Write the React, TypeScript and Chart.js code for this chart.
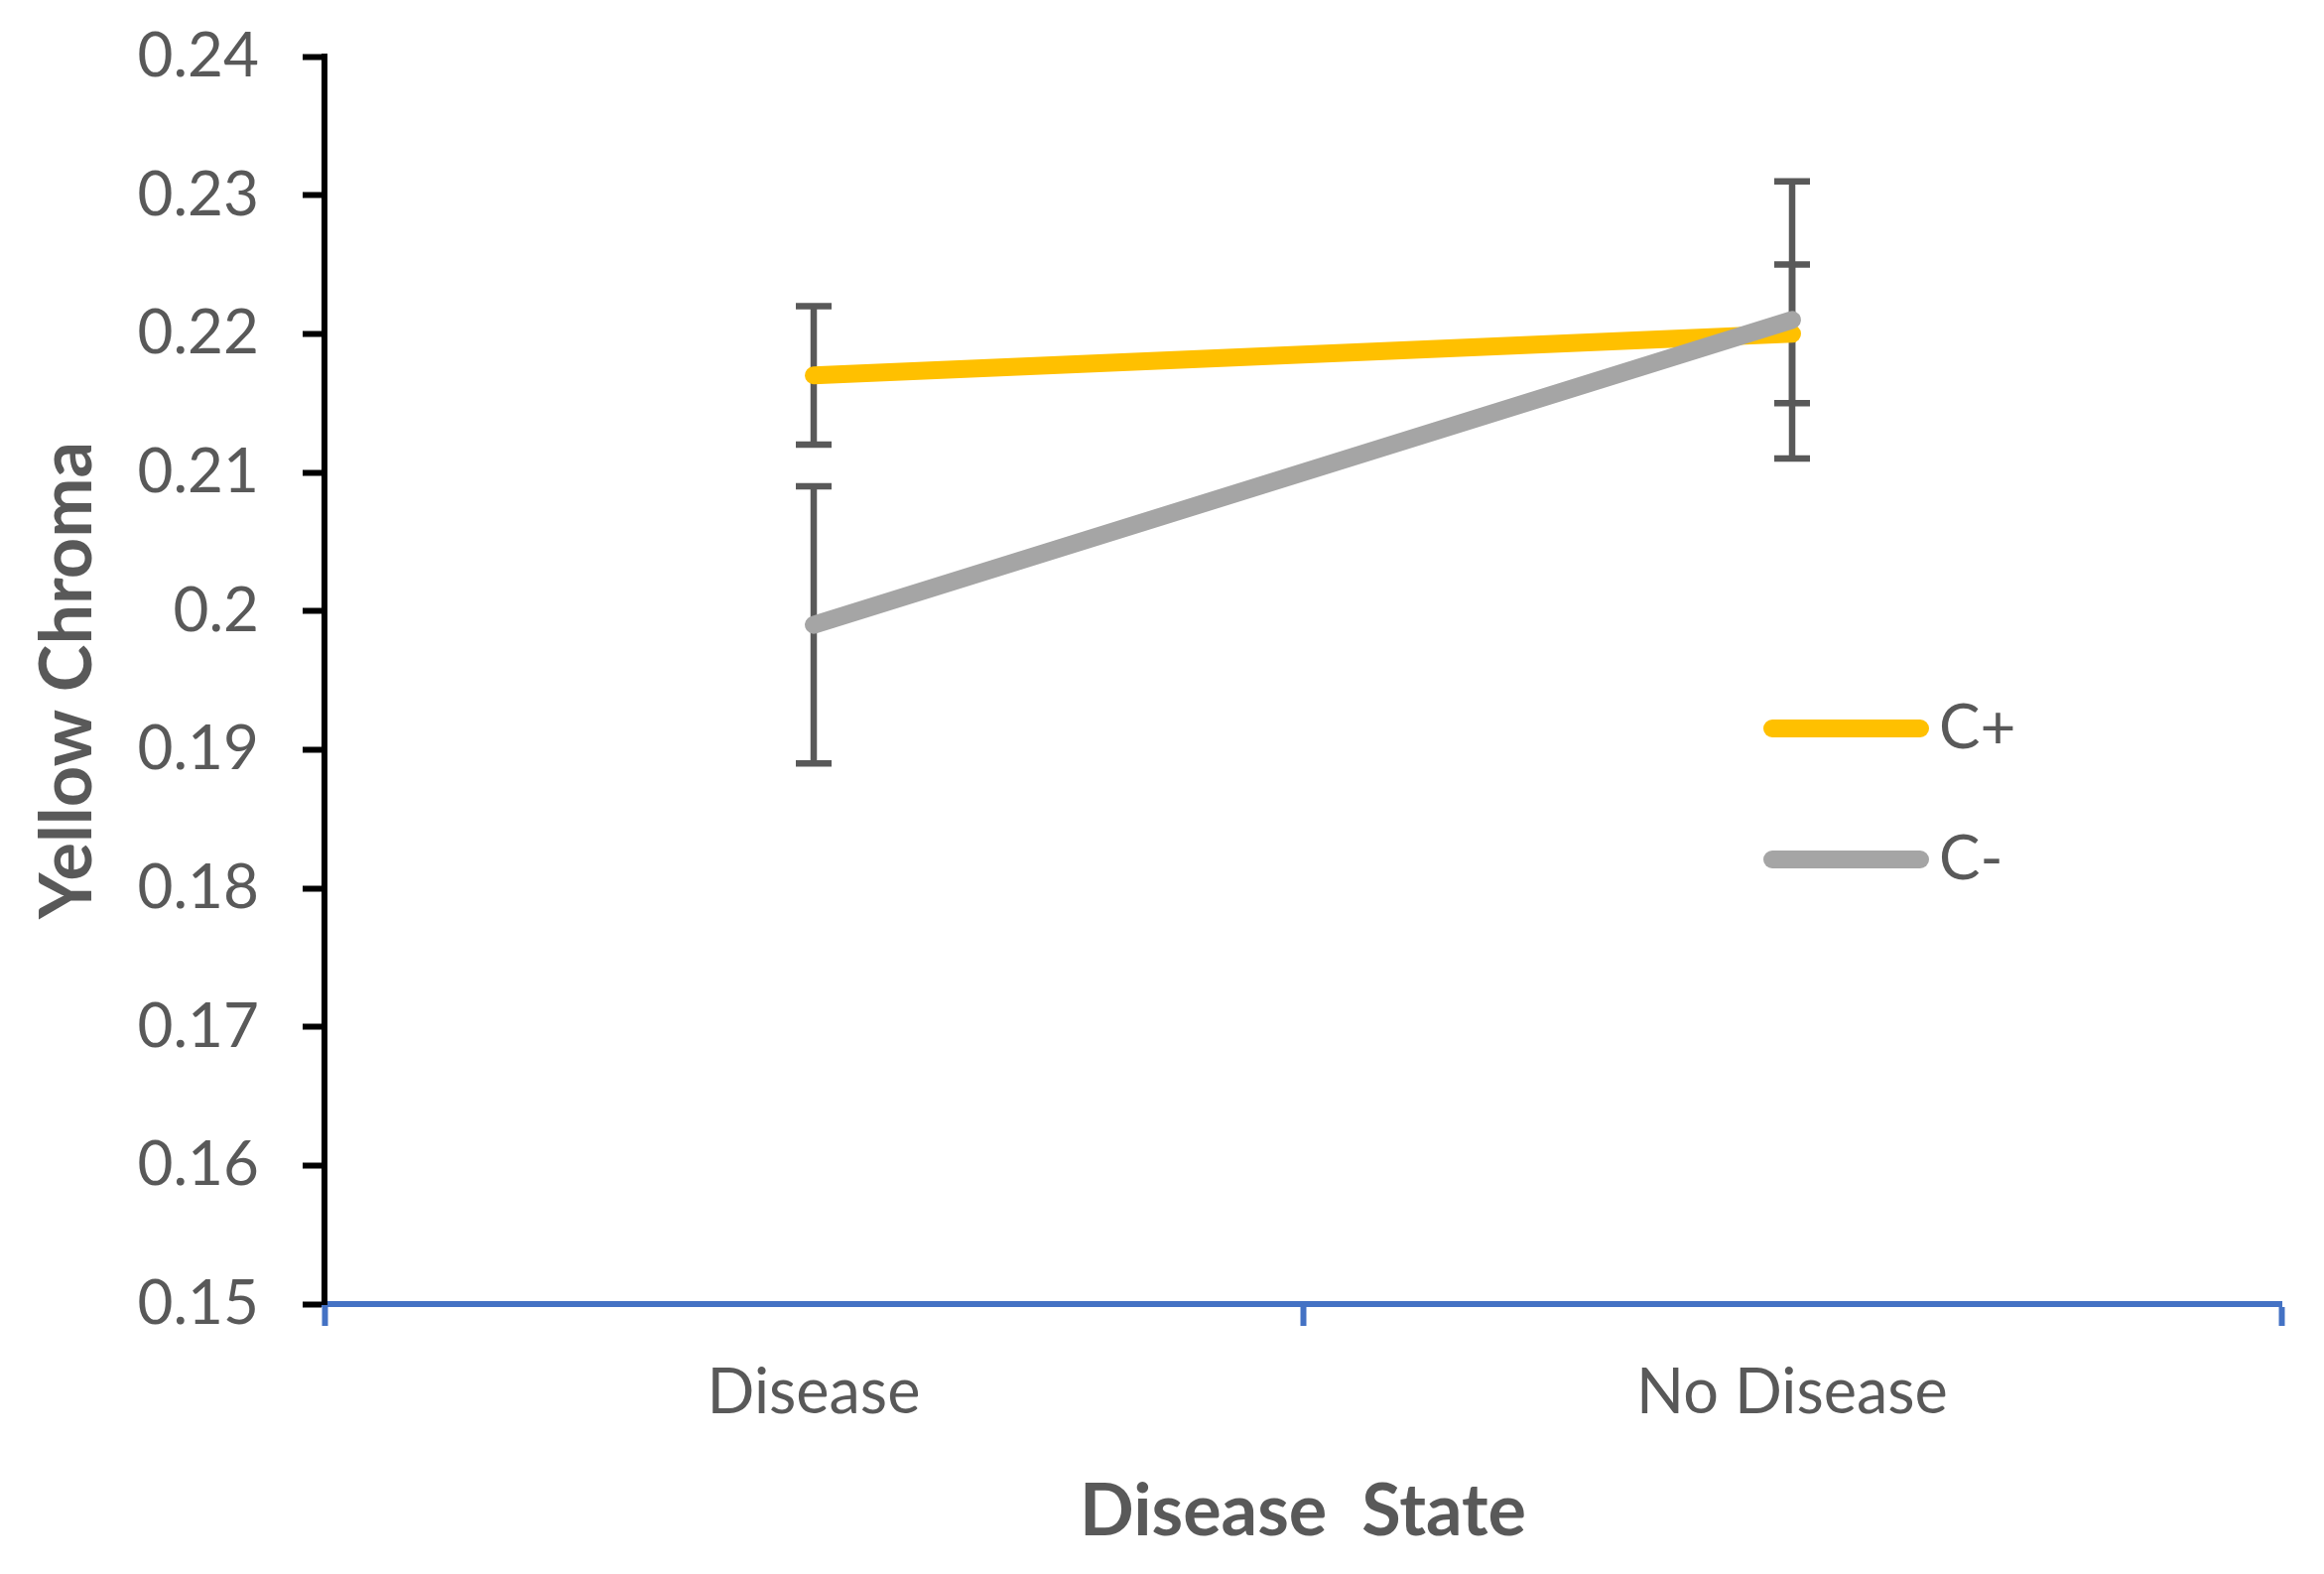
import React, { useEffect, useRef } from "react";
import { Chart, registerables } from "chart.js";

Chart.register(...registerables);

const categories = ["Disease", "No Disease"];
const seriesLabels = ["C+", "C-"];
const cPlusValues = [0.217, 0.22];
const cPlusErrors = [0.005, 0.005];
const cMinusValues = [0.199, 0.221];
const cMinusErrors = [0.01, 0.01];
const yTickValues = [0.15, 0.16, 0.17, 0.18, 0.19, 0.2, 0.21, 0.22, 0.23, 0.24];
const xTitle = "Disease  State";
const yTitle = "Yellow Chroma";

const YELLOW = "#FFC000";
const GREY = "#A5A5A5";
const TEXT = "#595959";
const BLUE = "#4472C4";

const errorBarPlugin = {
  id: "errorBars",
  beforeDatasetsDraw(chart: any) {
    const { ctx } = chart;
    const x = chart.scales.x;
    const y = chart.scales.y;
    ctx.save();
    ctx.strokeStyle = "#595959";
    ctx.lineWidth = 6.5;
    ctx.lineCap = "butt";
    chart.data.datasets.forEach((ds: any) => {
      const errs: number[] = ds.errors || [];
      ds.data.forEach((v: number, i: number) => {
        const e = errs[i];
        if (e == null) return;
        const px = x.getPixelForValue(i);
        const top = y.getPixelForValue(v + e);
        const bot = y.getPixelForValue(v - e);
        ctx.beginPath();
        ctx.moveTo(px, top);
        ctx.lineTo(px, bot);
        ctx.moveTo(px - 18, top);
        ctx.lineTo(px + 18, top);
        ctx.moveTo(px - 18, bot);
        ctx.lineTo(px + 18, bot);
        ctx.stroke();
      });
    });
    ctx.restore();
  },
};

const insideLegendPlugin = {
  id: "insideLegend",
  afterDatasetsDraw(chart: any) {
    const { ctx } = chart;
    const lineStart = 1786;
    const lineEnd = 1935;
    const textX = 1954;
    const rowY = [734, 866];
    ctx.save();
    chart.data.datasets.forEach((ds: any, i: number) => {
      const yy = rowY[i];
      ctx.beginPath();
      ctx.strokeStyle = ds.borderColor;
      ctx.lineWidth = 18;
      ctx.lineCap = "round";
      ctx.moveTo(lineStart, yy);
      ctx.lineTo(lineEnd, yy);
      ctx.stroke();
      ctx.fillStyle = TEXT;
      ctx.font = "62px Lato";
      ctx.textAlign = "left";
      ctx.textBaseline = "middle";
      ctx.fillText(ds.label, textX, yy);
    });
    ctx.restore();
  },
};

export default function App() {
  const canvasRef = useRef<HTMLCanvasElement | null>(null);

  useEffect(() => {
    const canvas = canvasRef.current;
    if (!canvas) return;
    Chart.defaults.font.family = "Lato";
    const chart = new Chart(canvas, {
      type: "line",
      data: {
        labels: categories,
        datasets: [
          {
            label: seriesLabels[0],
            data: cPlusValues,
            errors: cPlusErrors,
            borderColor: YELLOW,
            backgroundColor: YELLOW,
            borderWidth: 18,
            borderCapStyle: "round",
            pointRadius: 0,
            pointHoverRadius: 0,
            order: 1,
          } as any,
          {
            label: seriesLabels[1],
            data: cMinusValues,
            errors: cMinusErrors,
            borderColor: GREY,
            backgroundColor: GREY,
            borderWidth: 18,
            borderCapStyle: "round",
            pointRadius: 0,
            pointHoverRadius: 0,
            order: 0,
          } as any,
        ],
      },
      options: {
        responsive: false,
        animation: false,
        devicePixelRatio: 1,
        layout: { padding: { top: 57, right: 43, left: 0, bottom: 0 } },
        plugins: {
          legend: { display: false },
          tooltip: { enabled: false },
        },
        scales: {
          x: {
            type: "category",
            offset: true,
            grid: {
              offset: true,
              drawOnChartArea: false,
              drawTicks: true,
              tickLength: 22,
              tickWidth: 6,
              tickColor: BLUE,
            },
            border: { color: BLUE, width: 6 },
            ticks: {
              color: TEXT,
              font: { family: "Lato", size: 63 },
              padding: 30,
              maxRotation: 0,
            },
            title: {
              display: true,
              text: xTitle,
              color: TEXT,
              font: { family: "Lato", size: 72, weight: "bold" },
              padding: { top: 0, bottom: 19 },
            },
            afterFit(scale: any) {
              scale.height = 272;
              scale.paddingLeft = 0;
              scale.paddingRight = 0;
            },
          },
          y: {
            type: "linear",
            min: 0.15,
            max: 0.24,
            grid: {
              drawOnChartArea: false,
              drawTicks: true,
              tickLength: 22,
              tickWidth: 6,
              tickColor: "#000000",
            },
            border: { color: "#000000", width: 6 },
            ticks: {
              color: TEXT,
              font: { family: "Lato", size: 62 },
              padding: 44,
              callback: (v: any) => String(parseFloat(Number(v).toFixed(2))),
            },
            afterBuildTicks(scale: any) {
              scale.ticks = yTickValues.map((v) => ({ value: v }));
            },
            title: {
              display: true,
              text: yTitle,
              color: TEXT,
              font: { family: "Lato", size: 72, weight: "bold" },
              padding: { top: 26, bottom: 0 },
            },
            afterFit(scale: any) {
              scale.width = 327;
              scale.paddingTop = 0;
              scale.paddingBottom = 0;
            },
          },
        },
      },
      plugins: [errorBarPlugin, insideLegendPlugin],
    } as any);
    return () => chart.destroy();
  }, []);

  return (
    <div style={{ position: "fixed", left: 0, top: 0, width: 2342, height: 1586, background: "#fff" }}>
      <canvas ref={canvasRef} width={2342} height={1586} style={{ display: "block" }} />
    </div>
  );
}
